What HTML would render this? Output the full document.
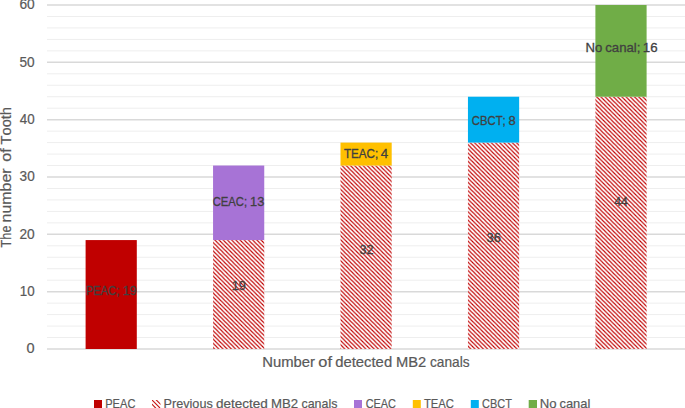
<!DOCTYPE html>
<html><head><meta charset="utf-8"><style>
html,body{margin:0;padding:0;background:#fff;overflow:hidden;}
svg{display:block;}
text{font-family:"Liberation Sans",sans-serif;font-kerning:none;}
</style></head><body>
<svg width="685" height="408" viewBox="0 0 685 408">
<defs>
<pattern id="hatch" patternUnits="userSpaceOnUse" width="4.2" height="4.2">
<rect width="4.2" height="4.2" fill="#fff"/>
<path d="M-1,-1 L5.2,5.2 M-1,3.2 L1,5.2 M3.2,-1 L5.2,1" stroke="#C00000" stroke-width="1.15"/>
</pattern>
<clipPath id="lgc"><rect x="152" y="400" width="8.5" height="8"/></clipPath>
</defs>
<rect width="685" height="408" fill="#fff"/>
<line x1="47" x2="685" y1="337.53" y2="337.53" stroke="#EEEEEE" stroke-width="1"/>
<line x1="47" x2="685" y1="326.07" y2="326.07" stroke="#EEEEEE" stroke-width="1"/>
<line x1="47" x2="685" y1="314.60" y2="314.60" stroke="#EEEEEE" stroke-width="1"/>
<line x1="47" x2="685" y1="303.13" y2="303.13" stroke="#EEEEEE" stroke-width="1"/>
<line x1="47" x2="685" y1="280.20" y2="280.20" stroke="#EEEEEE" stroke-width="1"/>
<line x1="47" x2="685" y1="268.73" y2="268.73" stroke="#EEEEEE" stroke-width="1"/>
<line x1="47" x2="685" y1="257.27" y2="257.27" stroke="#EEEEEE" stroke-width="1"/>
<line x1="47" x2="685" y1="245.80" y2="245.80" stroke="#EEEEEE" stroke-width="1"/>
<line x1="47" x2="685" y1="222.87" y2="222.87" stroke="#EEEEEE" stroke-width="1"/>
<line x1="47" x2="685" y1="211.40" y2="211.40" stroke="#EEEEEE" stroke-width="1"/>
<line x1="47" x2="685" y1="199.93" y2="199.93" stroke="#EEEEEE" stroke-width="1"/>
<line x1="47" x2="685" y1="188.47" y2="188.47" stroke="#EEEEEE" stroke-width="1"/>
<line x1="47" x2="685" y1="165.53" y2="165.53" stroke="#EEEEEE" stroke-width="1"/>
<line x1="47" x2="685" y1="154.07" y2="154.07" stroke="#EEEEEE" stroke-width="1"/>
<line x1="47" x2="685" y1="142.60" y2="142.60" stroke="#EEEEEE" stroke-width="1"/>
<line x1="47" x2="685" y1="131.13" y2="131.13" stroke="#EEEEEE" stroke-width="1"/>
<line x1="47" x2="685" y1="108.20" y2="108.20" stroke="#EEEEEE" stroke-width="1"/>
<line x1="47" x2="685" y1="96.73" y2="96.73" stroke="#EEEEEE" stroke-width="1"/>
<line x1="47" x2="685" y1="85.27" y2="85.27" stroke="#EEEEEE" stroke-width="1"/>
<line x1="47" x2="685" y1="73.80" y2="73.80" stroke="#EEEEEE" stroke-width="1"/>
<line x1="47" x2="685" y1="50.87" y2="50.87" stroke="#EEEEEE" stroke-width="1"/>
<line x1="47" x2="685" y1="39.40" y2="39.40" stroke="#EEEEEE" stroke-width="1"/>
<line x1="47" x2="685" y1="27.94" y2="27.94" stroke="#EEEEEE" stroke-width="1"/>
<line x1="47" x2="685" y1="16.47" y2="16.47" stroke="#EEEEEE" stroke-width="1"/>
<line x1="47" x2="685" y1="349.00" y2="349.00" stroke="#D9D9D9" stroke-width="1.5"/>
<line x1="47" x2="685" y1="291.67" y2="291.67" stroke="#D9D9D9" stroke-width="1.5"/>
<line x1="47" x2="685" y1="234.33" y2="234.33" stroke="#D9D9D9" stroke-width="1.5"/>
<line x1="47" x2="685" y1="177.00" y2="177.00" stroke="#D9D9D9" stroke-width="1.5"/>
<line x1="47" x2="685" y1="119.67" y2="119.67" stroke="#D9D9D9" stroke-width="1.5"/>
<line x1="47" x2="685" y1="62.34" y2="62.34" stroke="#D9D9D9" stroke-width="1.5"/>
<line x1="47" x2="685" y1="5.00" y2="5.00" stroke="#D9D9D9" stroke-width="1.5"/>
<rect x="85.60" y="240.07" width="51.2" height="108.93" fill="#C00000"/>
<rect x="213.05" y="240.07" width="51.2" height="108.93" fill="url(#hatch)"/>
<rect x="213.05" y="165.53" width="51.2" height="74.53" fill="#A773D6"/>
<rect x="340.50" y="165.53" width="51.2" height="183.47" fill="url(#hatch)"/>
<rect x="340.50" y="142.60" width="51.2" height="22.93" fill="#FFC000"/>
<rect x="467.95" y="142.60" width="51.2" height="206.40" fill="url(#hatch)"/>
<rect x="467.95" y="96.73" width="51.2" height="45.87" fill="#00B0F0"/>
<rect x="595.40" y="96.73" width="51.2" height="252.27" fill="url(#hatch)"/>
<rect x="595.40" y="5.00" width="51.2" height="91.73" fill="#70AD47"/>
<g fill="#595959" font-size="14" stroke="#595959" stroke-width="0.2">
<text x="26.63" y="353.4" textLength="8.09" lengthAdjust="spacingAndGlyphs">0</text>
<text x="19.78" y="296.07" textLength="14.89" lengthAdjust="spacingAndGlyphs">10</text>
<text x="19.41" y="238.73" textLength="15.28" lengthAdjust="spacingAndGlyphs">20</text>
<text x="19.58" y="181.4" textLength="15.1" lengthAdjust="spacingAndGlyphs">30</text>
<text x="19.79" y="124.07" textLength="14.88" lengthAdjust="spacingAndGlyphs">40</text>
<text x="19.56" y="66.74" textLength="15.13" lengthAdjust="spacingAndGlyphs">50</text>
<text x="19.4" y="9.4" textLength="15.28" lengthAdjust="spacingAndGlyphs">60</text>
</g>
<g fill="#595959" font-size="14.3" stroke="#595959" stroke-width="0.2">
<g transform="rotate(-90)">
<text x="-247.49" y="10.9" textLength="21.95" lengthAdjust="spacingAndGlyphs">The</text>
<text x="-222.46" y="10.9" textLength="54.02" lengthAdjust="spacingAndGlyphs">number</text>
<text x="-161.68" y="10.9" textLength="13.56" lengthAdjust="spacingAndGlyphs">of</text>
<text x="-144.43" y="10.9" textLength="37.38" lengthAdjust="spacingAndGlyphs">Tooth</text>
</g>
<text x="262.28" y="366.6" textLength="52.76" lengthAdjust="spacingAndGlyphs">Number</text>
<text x="318.31" y="366.6" textLength="13.66" lengthAdjust="spacingAndGlyphs">of</text>
<text x="335.18" y="366.6" textLength="56.98" lengthAdjust="spacingAndGlyphs">detected</text>
<text x="395.99" y="366.6" textLength="30.25" lengthAdjust="spacingAndGlyphs">MB2</text>
<text x="430.02" y="366.6" textLength="39.58" lengthAdjust="spacingAndGlyphs">canals</text>
</g>
<g fill="#404040" font-size="13" stroke="#404040" stroke-width="0.3">
<text x="85.88" y="294.9" textLength="33.63" lengthAdjust="spacingAndGlyphs">PEAC;</text>
<text x="122.86" y="294.9" textLength="13.72" lengthAdjust="spacingAndGlyphs">19</text>
<text x="212.73" y="205.7" textLength="34.38" lengthAdjust="spacingAndGlyphs">CEAC;</text>
<text x="250.12" y="205.7" textLength="14.24" lengthAdjust="spacingAndGlyphs">13</text>
<text x="343.94" y="158.1" textLength="34.2" lengthAdjust="spacingAndGlyphs">TEAC;</text>
<text x="380.79" y="158.1" textLength="7.39" lengthAdjust="spacingAndGlyphs">4</text>
<text x="471.83" y="125.0" textLength="33.89" lengthAdjust="spacingAndGlyphs">CBCT;</text>
<text x="508.54" y="125.0" textLength="7.23" lengthAdjust="spacingAndGlyphs">8</text>
<text x="585.42" y="51.5" textLength="16.83" lengthAdjust="spacingAndGlyphs">No</text>
<text x="605.24" y="51.5" textLength="35.25" lengthAdjust="spacingAndGlyphs">canal;</text>
<text x="642.89" y="51.5" textLength="14.8" lengthAdjust="spacingAndGlyphs">16</text>
<text x="231.73" y="289.7" textLength="14.17" lengthAdjust="spacingAndGlyphs">19</text>
<text x="359.52" y="253.8" textLength="14.01" lengthAdjust="spacingAndGlyphs">32</text>
<text x="486.61" y="241.6" textLength="14.36" lengthAdjust="spacingAndGlyphs">36</text>
<text x="614.22" y="205.5" textLength="13.64" lengthAdjust="spacingAndGlyphs">44</text>
</g>
<rect x="94" y="400" width="8" height="8" fill="#C00000"/>
<rect x="354" y="400" width="8" height="8" fill="#A773D6"/>
<rect x="412.8" y="400" width="8" height="8" fill="#FFC000"/>
<rect x="470.8" y="400" width="8" height="8" fill="#00B0F0"/>
<rect x="528.7" y="400" width="8.3" height="8" fill="#70AD47"/>
<g clip-path="url(#lgc)" stroke="#C81818" stroke-width="1.15">
<path d="M151.5,399.5 L161,409 M155.8,399.5 L161,404.7 M151.5,403.8 L156.2,408.5"/>
</g>
<g font-size="13" fill="#595959" stroke="#595959" stroke-width="0.2">
<text x="105.19" y="408.1" textLength="30.23" lengthAdjust="spacingAndGlyphs">PEAC</text>
<text x="163.56" y="408.1" textLength="49.19" lengthAdjust="spacingAndGlyphs">Previous</text>
<text x="216.03" y="408.1" textLength="51.84" lengthAdjust="spacingAndGlyphs">detected</text>
<text x="270.92" y="408.1" textLength="27.15" lengthAdjust="spacingAndGlyphs">MB2</text>
<text x="301.47" y="408.1" textLength="35.88" lengthAdjust="spacingAndGlyphs">canals</text>
<text x="365.64" y="408.1" textLength="30.37" lengthAdjust="spacingAndGlyphs">CEAC</text>
<text x="423.95" y="408.1" textLength="30.08" lengthAdjust="spacingAndGlyphs">TEAC</text>
<text x="482.04" y="408.1" textLength="29.81" lengthAdjust="spacingAndGlyphs">CBCT</text>
<text x="539.82" y="408.1" textLength="16.83" lengthAdjust="spacingAndGlyphs">No</text>
<text x="559.45" y="408.1" textLength="30.81" lengthAdjust="spacingAndGlyphs">canal</text>
</g>
</svg>
</body></html>
